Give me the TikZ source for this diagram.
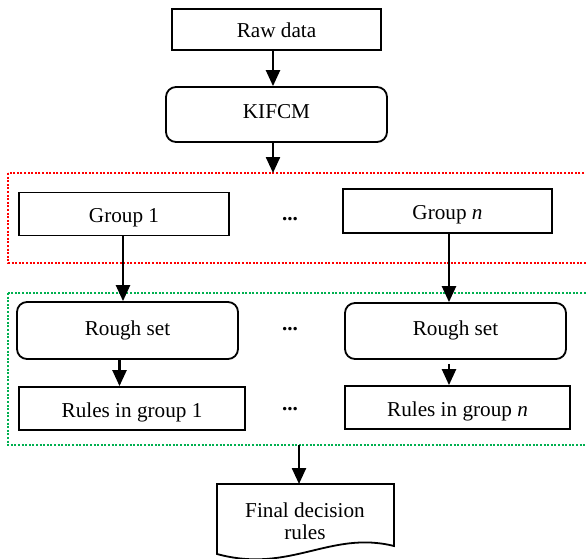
\documentclass[tikz,border=0pt]{standalone}
\usepackage{fontspec}
\setmainfont{Liberation Serif}
\usetikzlibrary{arrows.meta}
\begin{document}
\begin{tikzpicture}[x=1pt,y=-1pt,
  box/.style={draw=black,line width=1.8pt,inner sep=0pt,align=center,
    text height=17pt,text depth=0pt,
    font=\fontsize{21.2}{24}\selectfont},
  rbox/.style={box,rounded corners=10pt,text height=9pt},
  arr/.style={line width=2.4pt,-{Triangle[length=16pt,width=14pt]}},
  txt/.style={inner sep=0pt,font=\fontsize{21.2}{24}\selectfont},
  reddot/.style={draw=red,line width=2pt,dash pattern=on 2pt off 1.6pt},
  greendot/.style={draw={rgb,255:red,0;green,176;blue,80},line width=2pt,dash pattern=on 2pt off 1.6pt}
]
\useasboundingbox (0,0) rectangle (586,559);
\clip (0,0) rectangle (586,559);

% dotted group frames
\draw[reddot] (8,173) rectangle (620,263);
\coordinate (redtop) at (8,173);
\draw[greendot] (8,293) rectangle (620,445);
\coordinate (greentop) at (8,293);
\coordinate (greenbot) at (299,445);

% nodes
\node[box,minimum width=209pt,minimum height=41pt] (raw) at (276.5,29.5) {Raw data};
\node[rbox,minimum width=221pt,minimum height=55pt] (kifcm) at (276.5,114.5) {KIFCM};
\node[box,minimum width=210pt,minimum height=43pt] (g1) at (124,214) {Group 1};
\node[box,minimum width=209pt,minimum height=44pt] (gn) at (447.5,211) {Group \textit{n}};
\node[rbox,minimum width=221pt,minimum height=57pt] (rs1) at (127.5,330.5) {Rough set};
\node[rbox,minimum width=221pt,minimum height=56pt] (rsn) at (455.5,331) {Rough set};
\node[box,minimum width=226pt,minimum height=43pt] (r1) at (132,408.5) {Rules in group 1};
\node[box,minimum width=225pt,minimum height=43pt] (rn) at (457.5,407.5) {Rules in group \textit{n}};

\node[txt] (d1) at (290,219) {\textbf{...}};
\node[txt] (d2) at (290,329) {\textbf{...}};
\node[txt] (d3) at (290,409) {\textbf{...}};

% final document shape
\draw[line width=1.8pt,line join=miter] (217,484) -- (394,484) -- (394,546)
  .. controls (330,530) and (290,574) .. (217,554) -- cycle;
\coordinate (fintop) at (299,484);
\node[txt,align=center] (final) at (305,521) {Final decision\\[-1.5pt]rules};

% connectors
\draw[arr] ([xshift=-3.5pt]raw.south) -- ([xshift=-3.5pt]kifcm.north);
\draw[arr] ([xshift=-3.5pt]kifcm.south) -- ([xshift=-3.5pt]kifcm.south |- redtop);
\draw[arr] ([xshift=-1pt]g1.south) -- ([xshift=-1pt]g1.south |- rs1.north);
\draw[arr] ([xshift=1.5pt]gn.south) -- ([xshift=1.5pt]gn.south |- rsn.north);
\draw[arr] ([xshift=-8pt]rs1.south) -- ([xshift=-8pt]rs1.south |- r1.north);
\draw[arr] ([xshift=-6.5pt,yshift=-4pt]rsn.south) -- ([xshift=-6.5pt]rsn.south |- rn.north);
\draw[arr] (greenbot) -- (fintop);
\end{tikzpicture}
\end{document}
